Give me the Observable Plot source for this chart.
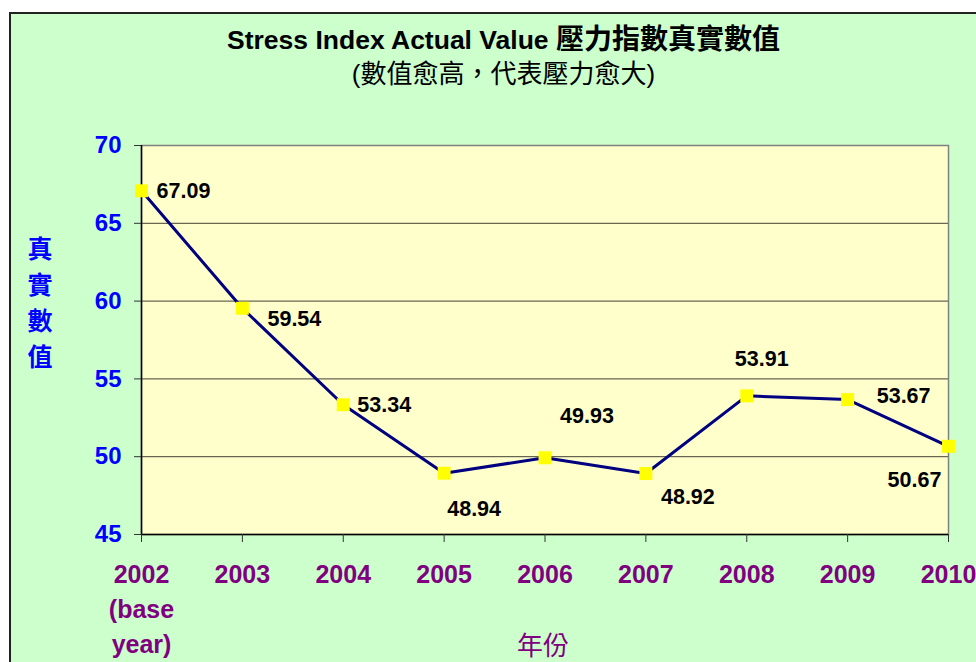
<!DOCTYPE html>
<html>
<head>
<meta charset="utf-8">
<script src="https://cdn.jsdelivr.net/npm/d3@7"></script>
<script src="https://cdn.jsdelivr.net/npm/@observablehq/plot@0.6"></script>
<style>
  html, body { margin: 0; padding: 0; width: 976px; height: 662px; overflow: hidden; background: #fff; }
  body { position: relative; font-family: "Liberation Sans", Arial, "Noto Sans CJK TC", sans-serif; }
  #box { position: absolute; left: 9px; top: 12px; width: 1000px; height: 700px; background: #CCFFCC;
         border-left: 2px solid #222; border-top: 2px solid #222; }
  #chart { position: absolute; left: 0; top: 0; }
  .t { position: absolute; white-space: nowrap; text-align: center; }
  #title { left: 0; width: 1007px; top: 21px; font-size: 26.5px; line-height: 32px; font-weight: bold; color: #000; }
  #title .cjk { font-size: 28px; font-family: "Noto Sans CJK TC", sans-serif; font-weight: bold; }
  #subtitle { left: 0; width: 1007px; top: 56px; font-size: 26px; line-height: 32px; color: #000; }
  #subtitle .cjk { font-family: "Noto Sans CJK TC", sans-serif; }
  #ylabel { left: 26px; top: 229px; width: 28px; font-size: 25px; line-height: 36px; font-weight: bold; color: #0000FF;
            font-family: "Noto Sans CJK TC", sans-serif; white-space: normal; }
  #xlabel { left: 503px; width: 80px; top: 631px; font-size: 26px; line-height: 26px; color: #800080;
            font-family: "Noto Sans CJK TC", sans-serif; }
</style>
</head>
<body>
<div id="box"></div>
<div id="chart"></div>
<div class="t" id="title">Stress Index Actual Value <span class="cjk">壓力指數真實數值</span></div>
<div class="t" id="subtitle">(<span class="cjk">數值愈高，代表壓力愈大</span>)</div>
<div class="t" id="ylabel">真<br>實<br>數<br>值</div>
<div class="t" id="xlabel">年份</div>
<script>
// ---- data ----
const years = ["2002", "2003", "2004", "2005", "2006", "2007", "2008", "2009", "2010"];
const values = [67.09, 59.54, 53.34, 48.94, 49.93, 48.92, 53.91, 53.67, 50.67];
const xTickLabels = ["2002\n(base\nyear)", "2003", "2004", "2005", "2006", "2007", "2008", "2009", "2010"];
const yTicks = [45, 50, 55, 60, 65, 70];
const yDomain = [45, 70];

// ---- build table ----
const data = years.map((y, i) => ({year: y, value: values[i], label: values[i].toFixed(2)}));
const tickLabelOf = new Map(years.map((y, i) => [y, xTickLabels[i]]));

// label offsets (pixels) relative to each point: [dx, dy]
const labelOffsets = [[42, 0], [52, 11], [41, 0], [30, 36], [42, -42], [42, 24], [15, -37], [56, -3], [-34, 34]];

const labelMarks = data.map((d, i) => Plot.text([d], {
  x: "year", y: "value", text: "label",
  dx: labelOffsets[i][0], dy: labelOffsets[i][1],
  fill: "#000", fontSize: 21.5, fontWeight: "bold", textAnchor: "middle",
  fontFamily: "Liberation Sans, Arial, sans-serif"
}));

const chart = Plot.plot({
  width: 976,
  height: 662,
  marginTop: 145,
  marginBottom: 128,
  marginLeft: 141,
  marginRight: 28,
  style: {background: "transparent", overflow: "visible", fontFamily: "Liberation Sans, Arial, sans-serif"},
  x: {type: "point", domain: years, padding: 0, round: false},
  y: {domain: yDomain},
  marks: [
    Plot.frame({fill: "#FFFFCC", stroke: null}),
    Plot.gridY(yTicks, {stroke: "#000", strokeOpacity: 0.75, strokeWidth: 1}),
    Plot.frame({stroke: "#808080", strokeWidth: 1.5}),
    Plot.ruleX([years[0]], {stroke: "#000", strokeWidth: 1.5}),
    Plot.ruleY([yDomain[0]], {stroke: "#000", strokeWidth: 1.5}),
    Plot.axisY(yTicks, {
      tickSize: 7, tickPadding: 13, stroke: "#333", fill: "#0000FF",
      fontSize: 24, fontWeight: "bold", label: null
    }),
    Plot.axisX({
      tickSize: 8, tickPadding: 16, stroke: "#333", fill: "#800080",
      fontSize: 25, fontWeight: "bold", lineHeight: 1.4, label: null,
      tickFormat: (d) => tickLabelOf.get(d)
    }),
    Plot.line(data, {x: "year", y: "value", stroke: "#000080", strokeWidth: 3}),
    Plot.dot(data, {x: "year", y: "value", symbol: "square", r: 7.3, fill: "#FFFF00", stroke: null}),
    ...labelMarks
  ]
});
document.getElementById("chart").appendChild(chart);
</script>
</body>
</html>
